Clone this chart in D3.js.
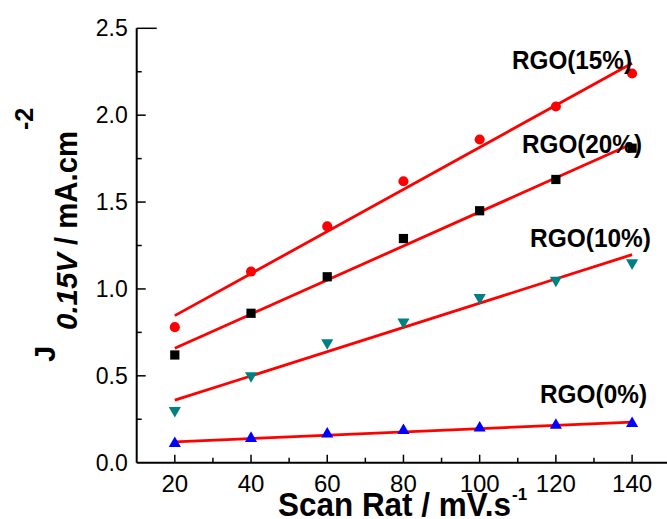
<!DOCTYPE html>
<html><head><meta charset="utf-8">
<script src="https://cdn.jsdelivr.net/npm/d3@7"></script>
<style>
body{margin:0;background:#fff;}
svg text{font-family:Arial,"Liberation Sans",sans-serif;}
</style></head>
<body><svg id="c" width="667" height="519"></svg>
<script>
const scanRates = [20, 40, 60, 80, 100, 120, 140];
const rgo15 = [0.78, 1.10, 1.36, 1.62, 1.86, 2.05, 2.24];
const rgo20 = [0.62, 0.86, 1.07, 1.29, 1.45, 1.63, 1.81];
const rgo10 = [0.30, 0.50, 0.69, 0.81, 0.95, 1.05, 1.15];
const rgo0  = [0.11, 0.14, 0.165, 0.185, 0.20, 0.215, 0.225];
const seriesNames = ["RGO(15%)", "RGO(20%)", "RGO(10%)", "RGO(0%)"];
const xTicks = [20, 40, 60, 80, 100, 120, 140];
const yTicks = [0.0, 0.5, 1.0, 1.5, 2.0, 2.5];

const series = [
  {name: seriesNames[0], values: rgo15, color: "#ff0000", shape: d3.symbolCircle, size: 80, rot: 0, lab: [512, 69, 120]},
  {name: seriesNames[1], values: rgo20, color: "#000000", shape: d3.symbolSquare, size: 85, rot: 0, lab: [522, 153, 120]},
  {name: seriesNames[2], values: rgo10, color: "#008080", shape: d3.symbolTriangle, size: 64, rot: 180, lab: [530, 247, 121]},
  {name: seriesNames[3], values: rgo0,  color: "#0000ff", shape: d3.symbolTriangle, size: 64, rot: 0, lab: [540, 403, 107]}
];

const svg = d3.select("#c");
const x = d3.scaleLinear().domain([10, 150]).range([136.7, 670.2]);
const y = d3.scaleLinear().domain([0, 2.5]).range([462.7, 28.3]);

// least-squares fit of each series (red lines)
function fit(vals) {
  const n = scanRates.length;
  const mx = d3.mean(scanRates), my = d3.mean(vals);
  let sxy = 0, sxx = 0;
  for (let i = 0; i < n; i++) { sxy += (scanRates[i]-mx)*(vals[i]-my); sxx += (scanRates[i]-mx)**2; }
  const b = sxy/sxx, a = my - b*mx;
  return [scanRates[0], scanRates[n-1]].map(v => [v, a + b*v]);
}

// x axis
const gx = svg.append("g").attr("transform", `translate(0,${y(0)})`);
gx.append("line").attr("x1", x(10)).attr("x2", 667).attr("stroke", "#000").attr("stroke-width", 2);
d3.range(20, 151, 10).forEach(v => {
  const major = xTicks.includes(v);
  gx.append("line").attr("x1", x(v)).attr("x2", x(v)).attr("y1", 0).attr("y2", major ? -8 : -5)
    .attr("stroke", "#000").attr("stroke-width", 1.5);
});
xTicks.forEach(v => {
  gx.append("text").attr("x", x(v)).attr("y", 29).attr("text-anchor", "middle")
    .attr("font-size", 24).text(v);
});

// y axis
const gy = svg.append("g").attr("transform", `translate(${x(10)},0)`);
gy.append("line").attr("y1", y(0)).attr("y2", y(2.5)).attr("stroke", "#000").attr("stroke-width", 2);
d3.range(1, 11).map(i => i*0.25).forEach(v => {
  const major = Math.abs(v*2 - Math.round(v*2)) < 1e-9;
  const len = v === 2.5 ? 20 : (major ? 9 : 5);
  gy.append("line").attr("x1", 0).attr("x2", len).attr("y1", y(v)).attr("y2", y(v))
    .attr("stroke", "#000").attr("stroke-width", 1.5);
});
yTicks.forEach(v => {
  gy.append("text").attr("x", -9).attr("y", y(v) + 8).attr("text-anchor", "end")
    .attr("font-size", 23).text(v.toFixed(1));
});

// fit lines
const line = d3.line().x(d => x(d[0])).y(d => y(d[1]));
series.forEach(s => {
  svg.append("path").attr("d", line(fit(s.values))).attr("fill", "none")
    .attr("stroke", "#ff0000").attr("stroke-width", 2.8);
});
// markers
series.forEach(s => {
  const sym = d3.symbol().type(s.shape).size(s.size);
  svg.append("g").selectAll("path").data(s.values).join("path")
    .attr("d", sym)
    .attr("transform", (d, i) => `translate(${x(scanRates[i])},${y(d)}) rotate(${s.rot})`)
    .attr("fill", s.color);
});
// series labels
series.forEach(s => {
  svg.append("text").attr("x", s.lab[0]).attr("y", s.lab[1]).attr("font-size", 25)
    .attr("font-weight", "bold").attr("textLength", s.lab[2]).attr("lengthAdjust", "spacingAndGlyphs")
    .text(s.name);
});

// x title
svg.append("text").attr("x", 278).attr("y", 516).attr("font-weight", "bold").attr("font-size", 33)
  .attr("textLength", 233).attr("lengthAdjust", "spacingAndGlyphs").text("Scan Rat / mV.s");
svg.append("text").attr("x", 512).attr("y", 500).attr("font-weight", "bold").attr("font-size", 17)
  .text("-1");

// y title (rotated pieces)
const yg = svg.append("g").attr("transform", "translate(77,362) rotate(-90)").attr("font-weight", "bold");
yg.append("text").attr("x", 0).attr("y", -22).attr("font-size", 29).text("J");
yg.append("text").attr("x", 32).attr("y", 0).attr("font-size", 30).attr("font-style", "italic")
  .attr("textLength", 77).attr("lengthAdjust", "spacingAndGlyphs").text("0.15V");
yg.append("text").attr("x", 117).attr("y", 0).attr("font-size", 31)
  .attr("textLength", 114).attr("lengthAdjust", "spacingAndGlyphs").text("/ mA.cm");
yg.append("text").attr("x", 232).attr("y", -44).attr("font-size", 25).text("-2");
</script></body></html>
